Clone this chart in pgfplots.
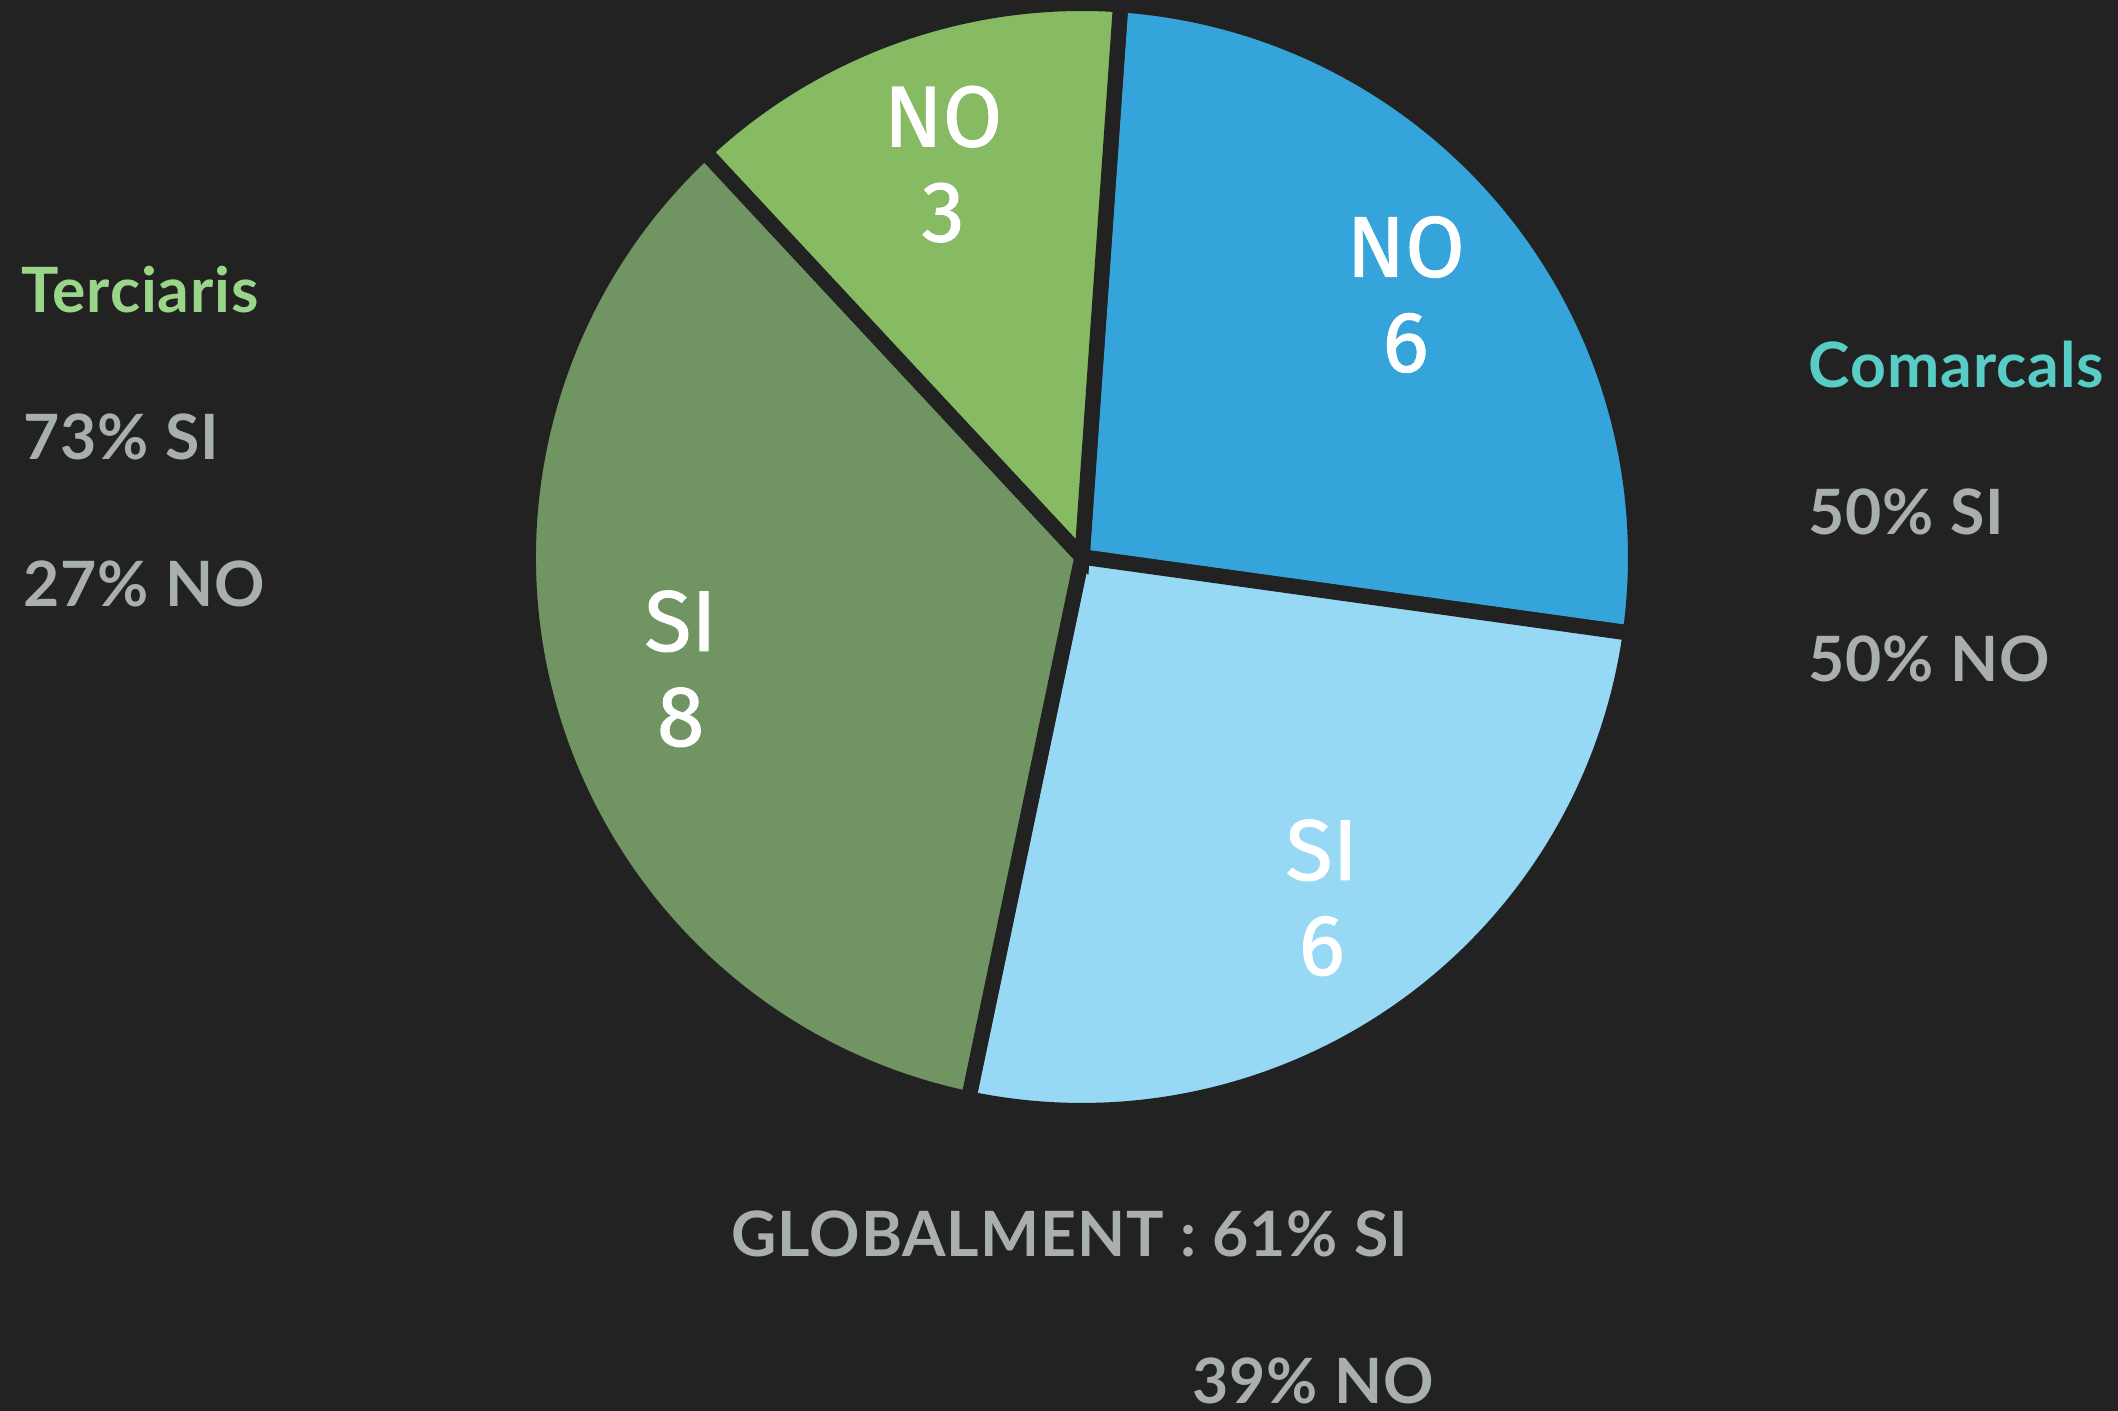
\documentclass[border=0pt]{standalone}
\usepackage{fontspec}
\setmainfont{Lato}
\newfontfamily\slicefont[FakeBold=1.2]{Fira Sans}
\usepackage{pgfplots}
\usepackage{pgfplotstable}
\pgfplotsset{compat=1.18}
\definecolor{bg}{HTML}{222222}
\definecolor{cNoB}{HTML}{35A4DB}
\definecolor{cSiB}{HTML}{97D8F5}
\definecolor{cSiG}{HTML}{709562}
\definecolor{cNoG}{HTML}{86BA63}
\definecolor{cTerc}{HTML}{9AD68A}
\definecolor{cComa}{HTML}{57CDC5}
\definecolor{cTxt}{HTML}{A9AFAF}

% slices, clockwise from the top
\pgfplotstableread{
label value color
NO 6 cNoB
SI 6 cSiB
SI 8 cSiG
NO 3 cNoG
}\piedata

% pie geometry in pixel units of the axis (1 unit = 0.36pt)
\def\cx{1082}\def\cy{854}
\def\Rpt{199.3pt}   % outer radius
\def\Lpt{150pt}     % radius of the labels
\def\startang{86}

\pgfplotstablegetrowsof{\piedata}\pgfmathtruncatemacro\lastrow{\pgfplotsretval-1}
\gdef\total{0}
\foreach \i in {0,...,\lastrow}{%
  \pgfplotstablegetelem{\i}{value}\of\piedata
  \pgfmathparse{\total+\pgfplotsretval}\xdef\total{\pgfmathresult}}
\gdef\curang{\startang}
\foreach \i in {0,...,\lastrow}{%
  \pgfplotstablegetelem{\i}{value}\of\piedata
  \expandafter\xdef\csname sV\i\endcsname{\pgfplotsretval}%
  \pgfmathparse{\curang-360*\pgfplotsretval/\total}\let\endang\pgfmathresult
  \expandafter\xdef\csname sA\i\endcsname{\curang}%
  \expandafter\xdef\csname sB\i\endcsname{\endang}%
  \pgfmathparse{(\curang+\endang)/2}\expandafter\xdef\csname sM\i\endcsname{\pgfmathresult}%
  \pgfplotstablegetelem{\i}{label}\of\piedata
  \expandafter\xdef\csname sL\i\endcsname{\pgfplotsretval}%
  \pgfplotstablegetelem{\i}{color}\of\piedata
  \xglobal\colorlet{slice\i}{\pgfplotsretval}%
  \xdef\curang{\endang}}

\begin{document}
\begin{tikzpicture}
\fill[bg] (0,0) rectangle (762.48pt,507.96pt);
\begin{axis}[
    at={(0,0)}, anchor=south west,
    width=762.48pt, height=507.96pt, scale only axis,
    xmin=0, xmax=2118, ymin=0, ymax=1411,
    hide axis, clip=false,
]
\pgfplotsinvokeforeach{0,...,\lastrow}{
  \filldraw[fill=slice#1, draw=bg, line width=5.5pt, line join=miter]
    (axis cs:\cx,\cy) -- ++({\csname sA#1\endcsname}:\Rpt)
    arc[start angle={\csname sA#1\endcsname}, end angle={\csname sB#1\endcsname}, radius=\Rpt]
    -- cycle;
  \path (axis cs:\cx,\cy) ++({\csname sM#1\endcsname}:\Lpt)
    node[text=white, align=center, font=\slicefont\fontsize{31}{34.2}\selectfont]
    {\csname sL#1\endcsname\\\csname sV#1\endcsname};
}

\begin{scope}[every node/.style={anchor=base west, inner sep=0pt,
    font=\bfseries\fontsize{22.5}{26}\selectfont\addfontfeature{LetterSpace=1.5}}]
\node[text=cTerc] at (axis cs:21,1098) {Terciaris};
\node[text=cTxt] at (axis cs:23,951) {73\% SI};
\node[text=cTxt] at (axis cs:23,804) {27\% NO};
\node[text=cComa] at (axis cs:1808,1023) {Comarcals};
\node[text=cTxt] at (axis cs:1808,876) {50\% SI};
\node[text=cTxt] at (axis cs:1808,729) {50\% NO};
\node[text=cTxt] at (axis cs:731,154) {GLOBALMENT : 61\% SI};
\node[text=cTxt] at (axis cs:1192,7) {39\% NO};
\end{scope}
\end{axis}
\pgfresetboundingbox
\useasboundingbox (0,0) rectangle (762.48pt,507.96pt);
\end{tikzpicture}
\end{document}
